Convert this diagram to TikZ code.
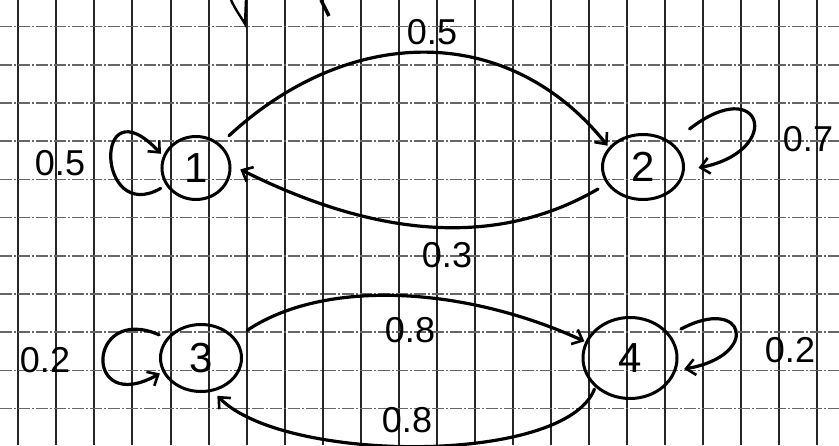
\documentclass[tikz,border=0pt]{standalone}
\usepackage{fontspec}
\setmainfont{Liberation Sans}
\usepackage{tikz}
\usetikzlibrary{arrows.meta, shapes.geometric}

\begin{document}
\begin{tikzpicture}[x=1pt, y=1pt,
			state/.style={ellipse, draw, line width=3pt, inner sep=0pt, font=\fontsize{42}{46}\selectfont},
			prob/.style={inner sep=0pt, font=\fontsize{36}{40}\selectfont},
			arrow/.style={-{Straight Barb[length=9pt, width=16pt, line width=2.6pt]}, line width=3.2pt, line cap=round},
			vline/.style={black!85, line width=2pt},
			hline/.style={black!60, line width=1.6pt, dash pattern=on 12pt off 2pt on 2pt off 2pt}
		]
		\useasboundingbox (0,0) rectangle (839,445);
		\fill[white] (0,0) rectangle (839,445);
		\foreach \i in {0,...,21} \draw[vline] (18.3+38.05*\i,0) -- (18.3+38.05*\i,445);
		\foreach \j in {0,...,10} \draw[hline] (0,418.3-38.2*\j) -- (839,418.3-38.2*\j);
		
		\node[state, minimum width=68pt, minimum height=63pt] (n1) at (196,277) {1};
		\node[state, minimum width=81pt, minimum height=65pt] (n2) at (643,278) {2};
		\node[state, minimum width=81pt, minimum height=67pt] (n3) at (201,87) {3};
		\node[state, minimum width=94pt, minimum height=81pt] (n4) at (630,87) {4};
		
		\node[prob] (p11) at (60,282) {0.5};
		\node[prob] (p12) at (432,413) {0.5};
		\node[prob] (p21) at (447,190) {0.3};
		\node[prob] (p22) at (808,306) {0.7};
		\node[prob] (p33) at (45,85) {0.2};
		\node[prob] (p34) at (410,115) {0.8};
		\node[prob] (p43) at (407,25) {0.8};
		\node[prob] (p44) at (790,95) {0.2};
		
		\draw[arrow, shorten <=12pt, shorten >=2pt] (n1.45) .. controls +(130,120) and +(-100,125) .. (n2.150);
		\draw[arrow, shorten <=10pt, shorten >=10pt] (n2.205) .. controls +(-120,-70) and +(130,-65) .. (n1.5);
		\draw[arrow, shorten <=6pt, shorten >=3pt] (n1.210) .. controls +(-70,-40) and +(-70,75) .. (n1.160);
		\draw[arrow, shorten <=22pt, shorten >=14pt] (n2.40) .. controls +(90,70) and +(100,20) .. (n2.-5);
		\draw[arrow, shorten <=14pt, shorten >=1pt] (n3.30) .. controls +(90,60) and +(-120,55) .. (n4.160);
		\draw[arrow, shorten <=2pt, shorten >=6pt] (n4.220) .. controls +(-30,-78) and +(70,-72) .. (n3.-70);
		\draw[arrow, shorten <=8pt, shorten >=3pt] (n3.150) .. controls +(-80,35) and +(-80,-45) .. (n3.200);
		\draw[arrow, shorten <=12pt, shorten >=8pt] (n4.30) .. controls +(75,40) and +(85,15) .. (n4.-15);
		
		\draw[line width=2.4pt] (231,445) .. controls (235,436) and (241,428) .. (245,421) -- (246,445);
		\draw[line width=3.4pt] (321,445) -- (329,429);
		\end{tikzpicture}
\end{document}
